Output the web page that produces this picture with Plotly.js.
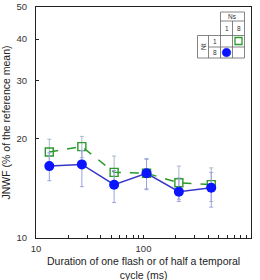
<!DOCTYPE html>
<html><head><meta charset="utf-8">
<script src="https://cdn.plot.ly/plotly-3.0.1.min.js"></script>
<style>html,body{margin:0;padding:0;background:#fff;}#chart{width:260px;height:280px;}</style>
</head><body><div id="chart"></div>
<script>
// Data
const durations = [13.3, 26.7, 53.3, 106.7, 213.3, 426.7];
const nt1ns8 = [18.2, 18.9, 15.8, 15.7, 14.7, 14.5];
const nt1ns8ErrPlus = [1.7, 1.4, 1.9, 1.7, 1.8, 1.8];
const nt1ns8ErrMinus = [1.6, 1.4, 1.7, 1.6, 1.6, 1.6];
const nt8ns1 = [16.5, 16.7, 14.5, 15.7, 13.8, 14.2];
const nt8ns1ErrPlus = [1.6, 1.7, 1.5, 1.6, 1.4, 1.6];
const nt8ns1ErrMinus = [1.6, 2.4, 1.7, 1.7, 0.9, 1.8];
const yTicks = [10, 20, 30, 40, 50];
const xTickVals = [10,20,30,40,50,60,70,80,90,100,200,300,400,500,600,700,800,900,1000];
const xTickText = ['10','','','','','','','','','100','','','','','','','','','1000'];
const xTitle = 'Duration of one flash or of half a temporal<br>cycle (ms)';
const yTitle = 'JNWF (% of the reference mean)';

// layout geometry (pixels)
const W = 260, H = 280, L = 36, R = 9, T = 7, B = 42;
const pw = W - L - R, ph = H - T - B;
const px = x => (x - L) / pw;
const py = y => (H - B - y) / ph;

const font = 'Liberation Sans, Arial, sans-serif';
const tblColor = '#666';
function line(x0, y0, x1, y1) {
  return {type:'line', xref:'paper', yref:'paper', x0:px(x0), y0:py(y0), x1:px(x1), y1:py(y1),
    line:{color:tblColor, width:0.8}};
}
const shapes = [
  line(220.5,12,244.5,12), line(220.5,21,244.5,21), line(197.5,35.5,244.5,35.5),
  line(208.5,47,244.5,47), line(197.5,58,244.5,58),
  line(197.5,35.5,197.5,58), line(208.5,35.5,208.5,58), line(220.5,12,220.5,58),
  line(232.5,21,232.5,58), line(244.5,12,244.5,58),
  {type:'circle', xref:'paper', yref:'paper', x0:px(222.2), x1:px(230.8), y0:py(48.2), y1:py(56.8),
    fillcolor:'#0a14ff', line:{color:'#0a14ff', width:0.5}},
  {type:'rect', xref:'paper', yref:'paper', x0:px(235), x1:px(242), y0:py(37.5), y1:py(44.5),
    fillcolor:'rgba(0,0,0,0)', line:{color:'#2a9a2a', width:1.3}}
];
function txt(t, x, y, angle) {
  return {text:t, xref:'paper', yref:'paper', x:px(x), y:py(y), showarrow:false,
    xanchor:'center', yanchor:'middle', textangle:angle||0, font:{family:font, size:6.5, color:'#333'}};
}
const annotations = [
  txt('Ns', 232.5, 16.5), txt('1', 226.5, 28.3), txt('8', 238.5, 28.3),
  txt('1', 214.5, 41.3), txt('8', 214.5, 52.5), txt('Nt', 203, 47, -90),
  {text:xTitle, xref:'paper', yref:'paper', x:px(143), y:py(268), showarrow:false,
   xanchor:'center', yanchor:'middle', font:{family:font, size:10.5, color:'#222'}}
];

const traces = [
  {x: durations, y: nt1ns8, type:'scatter', mode:'lines+markers',
   line:{color:'#2a9a2a', width:1.5, dash:'dash'},
   marker:{symbol:'square-open', size:8, color:'#2a9a2a', line:{width:1.4, color:'#2a9a2a'}},
   error_y:{type:'data', symmetric:false, array:nt1ns8ErrPlus, arrayminus:nt1ns8ErrMinus,
     color:'#a8b8c8', thickness:1, width:2}},
  {x: durations, y: nt8ns1, type:'scatter', mode:'lines+markers',
   line:{color:'#3535c8', width:1.5},
   marker:{symbol:'circle', size:10, color:'#0a14ff'},
   error_y:{type:'data', symmetric:false, array:nt8ns1ErrPlus, arrayminus:nt8ns1ErrMinus,
     color:'#9aa2e0', thickness:1, width:2}}
];

const layout = {
  width: W, height: H, margin:{l:L, r:R, t:T, b:B, pad:0},
  paper_bgcolor:'#fff', plot_bgcolor:'#fff', showlegend:false,
  font:{family:font, size:9.5, color:'#222'},
  xaxis:{type:'log', range:[1,3], tickmode:'array', tickvals:xTickVals, ticktext:xTickText,
    ticks:'inside', ticklen:3, tickcolor:'#222', showgrid:false, zeroline:false,
    showline:true, linecolor:'#222', linewidth:1, mirror:true, tickangle:0, ticklabelstandoff:2,
    tickfont:{family:font, size:9.5, color:'#333'}},
  yaxis:{type:'log', range:[1, Math.log10(50)], tickmode:'array', tickvals:yTicks, ticktext:yTicks.map(String),
    ticks:'inside', ticklen:3, tickcolor:'#222', showgrid:false, zeroline:false,
    showline:true, linecolor:'#222', linewidth:1, mirror:true, ticklabelstandoff:6,
    tickfont:{family:font, size:9.5, color:'#333'},
    title:{text:yTitle, font:{family:font, size:10.5, color:'#222'}, standoff:4}},
  shapes: shapes, annotations: annotations
};
Plotly.newPlot('chart', traces, layout, {staticPlot:true, displayModeBar:false});
</script>
</body></html>
